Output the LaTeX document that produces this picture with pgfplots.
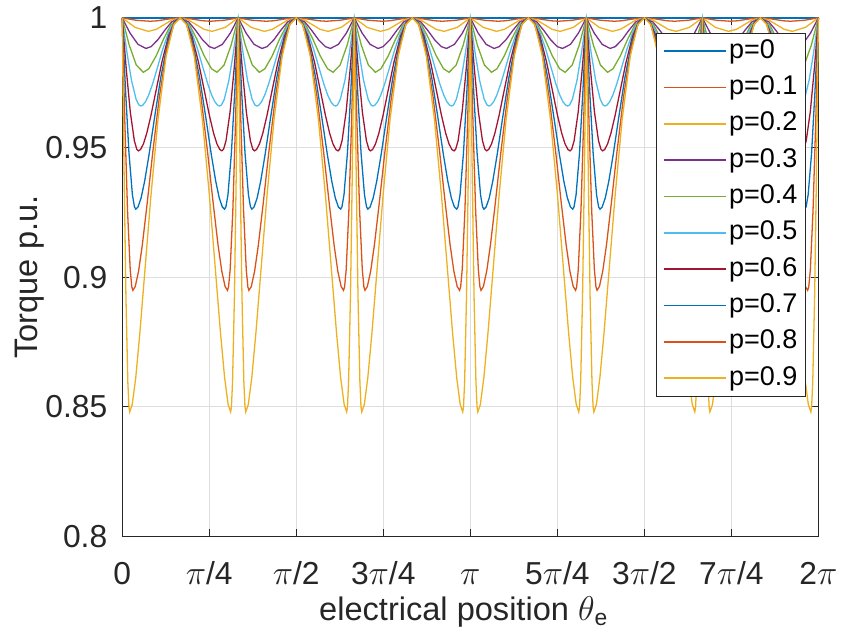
\documentclass[border=0pt]{standalone}
\usepackage{pgfplots}
\pgfplotsset{compat=1.18}
\usepackage{fontspec}
\setmainfont{Liberation Sans}
\definecolor{c1}{rgb}{0,0.447,0.741}
\definecolor{c2}{rgb}{0.85,0.325,0.098}
\definecolor{c3}{rgb}{0.929,0.694,0.125}
\definecolor{c4}{rgb}{0.494,0.184,0.556}
\definecolor{c5}{rgb}{0.466,0.674,0.188}
\definecolor{c6}{rgb}{0.301,0.745,0.933}
\definecolor{c7}{rgb}{0.635,0.078,0.184}
\begin{document}
\begin{tikzpicture}
\begin{axis}[
 scale only axis, width=350.5pt, height=261pt,
 xmin=0, xmax=12, ymin=0.8, ymax=1,
 xtick={0,1.5,3,4.5,6,7.5,9,10.5,12},
 xticklabels={0,$\pi$/4,$\pi$/2,3$\pi$/4,$\pi$,5$\pi$/4,3$\pi$/2,7$\pi$/4,2$\pi$},
 ytick={0.8,0.85,0.9,0.95,1},
 yticklabels={0.8,0.85,0.9,0.95,1},
 tick align=inside, major tick length=3.5pt,
 xtick pos=both, ytick pos=both, xticklabel pos=lower, yticklabel pos=left,
 tick style={color=black!85, line width=0.5pt},
 axis line style={color=black!85, line width=0.5pt},
 grid=major, major grid style={color=black!13, line width=0.5pt},
 clip=false,
 every axis plot/.append style={line width=0.65pt},
 tick label style={font=\fontsize{16}{19}\selectfont, color=black!85},
 xticklabel style={anchor=base, yshift=-24pt},
 yticklabel style={anchor=east, xshift=-4pt},
 xlabel={electrical position $\theta$\textsubscript{e}},
 ylabel={Torque p.u.},
 label style={font=\fontsize{16.4}{19}\selectfont, color=black!85},
 xlabel style={at={(axis description cs:0.4907,-0.145)}, anchor=center},
 ylabel style={at={(axis description cs:-0.1327,0.5)}, anchor=center},
 legend cell align=left,
 legend image code/.code={\draw[#1, line width=0.8pt] (0pt,0pt) -- (31.5pt,0pt);},
 legend style={at={(axis description cs:0.982,0.9713)}, anchor=north east,
   font=\fontsize{13.6}{15}\selectfont, draw=black!85, line width=0.5pt, fill=white,
   inner xsep=3pt, inner ysep=2pt, row sep=4.3pt,
   nodes={inner sep=1pt, text height=9.5pt, text depth=2.5pt}},
]
\coordinate (ll) at (rel axis cs:0,0);
\addplot[c1] coordinates {(0,1)(12,1)};
\addplot[c2] coordinates {
(0,1)(0.24,0.99908)(0.48,0.9987)(0.61,0.99888)(0.74,0.99934)(0.87,0.99981)(1,1)(1.13,0.99981)(1.26,0.99934)(1.39,0.99888)(1.52,0.9987)(1.76,0.99908)
(2,1)(2.24,0.99908)(2.48,0.9987)(2.61,0.99888)(2.74,0.99934)(2.87,0.99981)(3,1)(3.13,0.99981)(3.26,0.99934)(3.39,0.99888)(3.52,0.9987)(3.76,0.99908)
(4,1)(4.24,0.99908)(4.48,0.9987)(4.61,0.99888)(4.74,0.99934)(4.87,0.99981)(5,1)(5.13,0.99981)(5.26,0.99934)(5.39,0.99888)(5.52,0.9987)(5.76,0.99908)
(6,1)(6.24,0.99908)(6.48,0.9987)(6.61,0.99888)(6.74,0.99934)(6.87,0.99981)(7,1)(7.13,0.99981)(7.26,0.99934)(7.39,0.99888)(7.52,0.9987)(7.76,0.99908)
(8,1)(8.24,0.99908)(8.48,0.9987)(8.61,0.99888)(8.74,0.99934)(8.87,0.99981)(9,1)(9.13,0.99981)(9.26,0.99934)(9.39,0.99888)(9.52,0.9987)(9.76,0.99908)
(10,1)(10.24,0.99908)(10.48,0.9987)(10.61,0.99888)(10.74,0.99934)(10.87,0.99981)(11,1)(11.13,0.99981)(11.26,0.99934)(11.39,0.99888)(11.52,0.9987)(11.76,0.99908)
(12,1)};
\addplot[c3] coordinates {
(0,1)(0.225,0.99632)(0.45,0.9948)(0.5875,0.99557)(0.725,0.99741)(0.8625,0.99927)(1,1)(1.1375,0.99927)(1.275,0.99741)(1.4125,0.99557)(1.55,0.9948)(1.775,0.99632)
(2,1)(2.225,0.99632)(2.45,0.9948)(2.5875,0.99557)(2.725,0.99741)(2.8625,0.99927)(3,1)(3.1375,0.99927)(3.275,0.99741)(3.4125,0.99557)(3.55,0.9948)(3.775,0.99632)
(4,1)(4.225,0.99632)(4.45,0.9948)(4.5875,0.99557)(4.725,0.99741)(4.8625,0.99927)(5,1)(5.1375,0.99927)(5.275,0.99741)(5.4125,0.99557)(5.55,0.9948)(5.775,0.99632)
(6,1)(6.225,0.99632)(6.45,0.9948)(6.5875,0.99557)(6.725,0.99741)(6.8625,0.99927)(7,1)(7.1375,0.99927)(7.275,0.99741)(7.4125,0.99557)(7.55,0.9948)(7.775,0.99632)
(8,1)(8.225,0.99632)(8.45,0.9948)(8.5875,0.99557)(8.725,0.99741)(8.8625,0.99927)(9,1)(9.1375,0.99927)(9.275,0.99741)(9.4125,0.99557)(9.55,0.9948)(9.775,0.99632)
(10,1)(10.225,0.99632)(10.45,0.9948)(10.5875,0.99557)(10.725,0.99741)(10.8625,0.99927)(11,1)(11.1375,0.99927)(11.275,0.99741)(11.4125,0.99557)(11.55,0.9948)(11.775,0.99632)
(12,1)};
\addplot[c4] coordinates {
(0,1)(0.1367,0.9941)(0.2733,0.98978)(0.41,0.9882)(0.4985,0.9889)(0.6165,0.99159)(0.7345,0.99522)(0.8525,0.99843)(1,1)(1.1475,0.99843)(1.2655,0.99522)(1.3835,0.99159)(1.5015,0.9889)(1.59,0.9882)(1.7267,0.98978)(1.8633,0.9941)
(2,1)(2.1367,0.9941)(2.2733,0.98978)(2.41,0.9882)(2.4985,0.9889)(2.6165,0.99159)(2.7345,0.99522)(2.8525,0.99843)(3,1)(3.1475,0.99843)(3.2655,0.99522)(3.3835,0.99159)(3.5015,0.9889)(3.59,0.9882)(3.7267,0.98978)(3.8633,0.9941)
(4,1)(4.1367,0.9941)(4.2733,0.98978)(4.41,0.9882)(4.4985,0.9889)(4.6165,0.99159)(4.7345,0.99522)(4.8525,0.99843)(5,1)(5.1475,0.99843)(5.2655,0.99522)(5.3835,0.99159)(5.5015,0.9889)(5.59,0.9882)(5.7267,0.98978)(5.8633,0.9941)
(6,1)(6.1367,0.9941)(6.2733,0.98978)(6.41,0.9882)(6.4985,0.9889)(6.6165,0.99159)(6.7345,0.99522)(6.8525,0.99843)(7,1)(7.1475,0.99843)(7.2655,0.99522)(7.3835,0.99159)(7.5015,0.9889)(7.59,0.9882)(7.7267,0.98978)(7.8633,0.9941)
(8,1)(8.1367,0.9941)(8.2733,0.98978)(8.41,0.9882)(8.4985,0.9889)(8.6165,0.99159)(8.7345,0.99522)(8.8525,0.99843)(9,1)(9.1475,0.99843)(9.2655,0.99522)(9.3835,0.99159)(9.5015,0.9889)(9.59,0.9882)(9.7267,0.98978)(9.8633,0.9941)
(10,1)(10.1367,0.9941)(10.2733,0.98978)(10.41,0.9882)(10.4985,0.9889)(10.6165,0.99159)(10.7345,0.99522)(10.8525,0.99843)(11,1)(11.1475,0.99843)(11.2655,0.99522)(11.3835,0.99159)(11.5015,0.9889)(11.59,0.9882)(11.7267,0.98978)(11.8633,0.9941)
(12,1)};
\addplot[c5] coordinates {
(0,1)(0.1217,0.9895)(0.2433,0.98181)(0.365,0.979)(0.4603,0.98037)(0.5873,0.98538)(0.7143,0.99187)(0.8413,0.99739)(1,1)(1.1587,0.99739)(1.2857,0.99187)(1.4127,0.98538)(1.5397,0.98037)(1.635,0.979)(1.7567,0.98181)(1.8783,0.9895)
(2,1)(2.1217,0.9895)(2.2433,0.98181)(2.365,0.979)(2.4603,0.98037)(2.5873,0.98538)(2.7143,0.99187)(2.8413,0.99739)(3,1)(3.1587,0.99739)(3.2857,0.99187)(3.4127,0.98538)(3.5397,0.98037)(3.635,0.979)(3.7567,0.98181)(3.8783,0.9895)
(4,1)(4.1217,0.9895)(4.2433,0.98181)(4.365,0.979)(4.4603,0.98037)(4.5873,0.98538)(4.7143,0.99187)(4.8413,0.99739)(5,1)(5.1587,0.99739)(5.2857,0.99187)(5.4127,0.98538)(5.5397,0.98037)(5.635,0.979)(5.7567,0.98181)(5.8783,0.9895)
(6,1)(6.1217,0.9895)(6.2433,0.98181)(6.365,0.979)(6.4603,0.98037)(6.5873,0.98538)(6.7143,0.99187)(6.8413,0.99739)(7,1)(7.1587,0.99739)(7.2857,0.99187)(7.4127,0.98538)(7.5397,0.98037)(7.635,0.979)(7.7567,0.98181)(7.8783,0.9895)
(8,1)(8.1217,0.9895)(8.2433,0.98181)(8.365,0.979)(8.4603,0.98037)(8.5873,0.98538)(8.7143,0.99187)(8.8413,0.99739)(9,1)(9.1587,0.99739)(9.2857,0.99187)(9.4127,0.98538)(9.5397,0.98037)(9.635,0.979)(9.7567,0.98181)(9.8783,0.9895)
(10,1)(10.1217,0.9895)(10.2433,0.98181)(10.365,0.979)(10.4603,0.98037)(10.5873,0.98538)(10.7143,0.99187)(10.8413,0.99739)(11,1)(11.1587,0.99739)(11.2857,0.99187)(11.4127,0.98538)(11.5397,0.98037)(11.635,0.979)(11.7567,0.98181)(11.8783,0.9895)
(12,1)};
\addplot[c6] coordinates {
(0,1)(0.08,0.98699)(0.16,0.97596)(0.24,0.96859)(0.288,0.96642)(0.32,0.966)(0.354,0.9663)(0.4016,0.9676)(0.456,0.97014)(0.524,0.97447)(0.6056,0.98063)(0.7008,0.98798)(0.8096,0.99503)(0.9116,0.99903)(1,1)(1.0884,0.99903)(1.1904,0.99503)(1.2992,0.98798)(1.3944,0.98063)(1.476,0.97447)(1.544,0.97014)(1.5984,0.9676)(1.646,0.9663)(1.68,0.966)(1.712,0.96642)(1.76,0.96859)(1.84,0.97596)(1.92,0.98699)
(2,1)(2.08,0.98699)(2.16,0.97596)(2.24,0.96859)(2.288,0.96642)(2.32,0.966)(2.354,0.9663)(2.4016,0.9676)(2.456,0.97014)(2.524,0.97447)(2.6056,0.98063)(2.7008,0.98798)(2.8096,0.99503)(2.9116,0.99903)(3,1)(3.0884,0.99903)(3.1904,0.99503)(3.2992,0.98798)(3.3944,0.98063)(3.476,0.97447)(3.544,0.97014)(3.5984,0.9676)(3.646,0.9663)(3.68,0.966)(3.712,0.96642)(3.76,0.96859)(3.84,0.97596)(3.92,0.98699)
(4,1)(4.08,0.98699)(4.16,0.97596)(4.24,0.96859)(4.288,0.96642)(4.32,0.966)(4.354,0.9663)(4.4016,0.9676)(4.456,0.97014)(4.524,0.97447)(4.6056,0.98063)(4.7008,0.98798)(4.8096,0.99503)(4.9116,0.99903)(5,1)(5.0884,0.99903)(5.1904,0.99503)(5.2992,0.98798)(5.3944,0.98063)(5.476,0.97447)(5.544,0.97014)(5.5984,0.9676)(5.646,0.9663)(5.68,0.966)(5.712,0.96642)(5.76,0.96859)(5.84,0.97596)(5.92,0.98699)
(6,1)(6.08,0.98699)(6.16,0.97596)(6.24,0.96859)(6.288,0.96642)(6.32,0.966)(6.354,0.9663)(6.4016,0.9676)(6.456,0.97014)(6.524,0.97447)(6.6056,0.98063)(6.7008,0.98798)(6.8096,0.99503)(6.9116,0.99903)(7,1)(7.0884,0.99903)(7.1904,0.99503)(7.2992,0.98798)(7.3944,0.98063)(7.476,0.97447)(7.544,0.97014)(7.5984,0.9676)(7.646,0.9663)(7.68,0.966)(7.712,0.96642)(7.76,0.96859)(7.84,0.97596)(7.92,0.98699)
(8,1)(8.08,0.98699)(8.16,0.97596)(8.24,0.96859)(8.288,0.96642)(8.32,0.966)(8.354,0.9663)(8.4016,0.9676)(8.456,0.97014)(8.524,0.97447)(8.6056,0.98063)(8.7008,0.98798)(8.8096,0.99503)(8.9116,0.99903)(9,1)(9.0884,0.99903)(9.1904,0.99503)(9.2992,0.98798)(9.3944,0.98063)(9.476,0.97447)(9.544,0.97014)(9.5984,0.9676)(9.646,0.9663)(9.68,0.966)(9.712,0.96642)(9.76,0.96859)(9.84,0.97596)(9.92,0.98699)
(10,1)(10.08,0.98699)(10.16,0.97596)(10.24,0.96859)(10.288,0.96642)(10.32,0.966)(10.354,0.9663)(10.4016,0.9676)(10.456,0.97014)(10.524,0.97447)(10.6056,0.98063)(10.7008,0.98798)(10.8096,0.99503)(10.9116,0.99903)(11,1)(11.0884,0.99903)(11.1904,0.99503)(11.2992,0.98798)(11.3944,0.98063)(11.476,0.97447)(11.544,0.97014)(11.5984,0.9676)(11.646,0.9663)(11.68,0.966)(11.712,0.96642)(11.76,0.96859)(11.84,0.97596)(11.92,0.98699)
(12,1)};
\addplot[c7] coordinates {
(0,1)(0.07,0.98037)(0.14,0.96373)(0.21,0.9526)(0.252,0.94933)(0.28,0.9487)(0.316,0.9492)(0.3664,0.95137)(0.424,0.95549)(0.496,0.96233)(0.5824,0.97179)(0.6832,0.98276)(0.7984,0.99299)(0.9064,0.99866)(1,1)(1.0936,0.99866)(1.2016,0.99299)(1.3168,0.98276)(1.4176,0.97179)(1.504,0.96233)(1.576,0.95549)(1.6336,0.95137)(1.684,0.9492)(1.72,0.9487)(1.748,0.94933)(1.79,0.9526)(1.86,0.96373)(1.93,0.98037)
(2,1)(2.07,0.98037)(2.14,0.96373)(2.21,0.9526)(2.252,0.94933)(2.28,0.9487)(2.316,0.9492)(2.3664,0.95137)(2.424,0.95549)(2.496,0.96233)(2.5824,0.97179)(2.6832,0.98276)(2.7984,0.99299)(2.9064,0.99866)(3,1)(3.0936,0.99866)(3.2016,0.99299)(3.3168,0.98276)(3.4176,0.97179)(3.504,0.96233)(3.576,0.95549)(3.6336,0.95137)(3.684,0.9492)(3.72,0.9487)(3.748,0.94933)(3.79,0.9526)(3.86,0.96373)(3.93,0.98037)
(4,1)(4.07,0.98037)(4.14,0.96373)(4.21,0.9526)(4.252,0.94933)(4.28,0.9487)(4.316,0.9492)(4.3664,0.95137)(4.424,0.95549)(4.496,0.96233)(4.5824,0.97179)(4.6832,0.98276)(4.7984,0.99299)(4.9064,0.99866)(5,1)(5.0936,0.99866)(5.2016,0.99299)(5.3168,0.98276)(5.4176,0.97179)(5.504,0.96233)(5.576,0.95549)(5.6336,0.95137)(5.684,0.9492)(5.72,0.9487)(5.748,0.94933)(5.79,0.9526)(5.86,0.96373)(5.93,0.98037)
(6,1)(6.07,0.98037)(6.14,0.96373)(6.21,0.9526)(6.252,0.94933)(6.28,0.9487)(6.316,0.9492)(6.3664,0.95137)(6.424,0.95549)(6.496,0.96233)(6.5824,0.97179)(6.6832,0.98276)(6.7984,0.99299)(6.9064,0.99866)(7,1)(7.0936,0.99866)(7.2016,0.99299)(7.3168,0.98276)(7.4176,0.97179)(7.504,0.96233)(7.576,0.95549)(7.6336,0.95137)(7.684,0.9492)(7.72,0.9487)(7.748,0.94933)(7.79,0.9526)(7.86,0.96373)(7.93,0.98037)
(8,1)(8.07,0.98037)(8.14,0.96373)(8.21,0.9526)(8.252,0.94933)(8.28,0.9487)(8.316,0.9492)(8.3664,0.95137)(8.424,0.95549)(8.496,0.96233)(8.5824,0.97179)(8.6832,0.98276)(8.7984,0.99299)(8.9064,0.99866)(9,1)(9.0936,0.99866)(9.2016,0.99299)(9.3168,0.98276)(9.4176,0.97179)(9.504,0.96233)(9.576,0.95549)(9.6336,0.95137)(9.684,0.9492)(9.72,0.9487)(9.748,0.94933)(9.79,0.9526)(9.86,0.96373)(9.93,0.98037)
(10,1)(10.07,0.98037)(10.14,0.96373)(10.21,0.9526)(10.252,0.94933)(10.28,0.9487)(10.316,0.9492)(10.3664,0.95137)(10.424,0.95549)(10.496,0.96233)(10.5824,0.97179)(10.6832,0.98276)(10.7984,0.99299)(10.9064,0.99866)(11,1)(11.0936,0.99866)(11.2016,0.99299)(11.3168,0.98276)(11.4176,0.97179)(11.504,0.96233)(11.576,0.95549)(11.6336,0.95137)(11.684,0.9492)(11.72,0.9487)(11.748,0.94933)(11.79,0.9526)(11.86,0.96373)(11.93,0.98037)
(12,1)};
\addplot[c1] coordinates {
(0,1)(0.0588,0.97176)(0.1175,0.94782)(0.1763,0.93182)(0.2115,0.92711)(0.235,0.9262)(0.2733,0.92704)(0.3268,0.93056)(0.388,0.93704)(0.4645,0.94741)(0.5563,0.96124)(0.6634,0.97675)(0.7858,0.99074)(0.9006,0.99825)(1,1)(1.0994,0.99825)(1.2142,0.99074)(1.3366,0.97675)(1.4437,0.96124)(1.5355,0.94741)(1.612,0.93704)(1.6732,0.93056)(1.7267,0.92704)(1.765,0.9262)(1.7885,0.92711)(1.8237,0.93182)(1.8825,0.94782)(1.9412,0.97176)
(2,1)(2.0588,0.97176)(2.1175,0.94782)(2.1763,0.93182)(2.2115,0.92711)(2.235,0.9262)(2.2733,0.92704)(2.3268,0.93056)(2.388,0.93704)(2.4645,0.94741)(2.5563,0.96124)(2.6634,0.97675)(2.7858,0.99074)(2.9006,0.99825)(3,1)(3.0994,0.99825)(3.2142,0.99074)(3.3366,0.97675)(3.4437,0.96124)(3.5355,0.94741)(3.612,0.93704)(3.6732,0.93056)(3.7267,0.92704)(3.765,0.9262)(3.7885,0.92711)(3.8237,0.93182)(3.8825,0.94782)(3.9412,0.97176)
(4,1)(4.0588,0.97176)(4.1175,0.94782)(4.1763,0.93182)(4.2115,0.92711)(4.235,0.9262)(4.2733,0.92704)(4.3268,0.93056)(4.388,0.93704)(4.4645,0.94741)(4.5563,0.96124)(4.6634,0.97675)(4.7858,0.99074)(4.9006,0.99825)(5,1)(5.0994,0.99825)(5.2142,0.99074)(5.3366,0.97675)(5.4437,0.96124)(5.5355,0.94741)(5.612,0.93704)(5.6732,0.93056)(5.7267,0.92704)(5.765,0.9262)(5.7885,0.92711)(5.8237,0.93182)(5.8825,0.94782)(5.9412,0.97176)
(6,1)(6.0588,0.97176)(6.1175,0.94782)(6.1763,0.93182)(6.2115,0.92711)(6.235,0.9262)(6.2733,0.92704)(6.3268,0.93056)(6.388,0.93704)(6.4645,0.94741)(6.5563,0.96124)(6.6634,0.97675)(6.7858,0.99074)(6.9006,0.99825)(7,1)(7.0994,0.99825)(7.2142,0.99074)(7.3366,0.97675)(7.4437,0.96124)(7.5355,0.94741)(7.612,0.93704)(7.6732,0.93056)(7.7267,0.92704)(7.765,0.9262)(7.7885,0.92711)(7.8237,0.93182)(7.8825,0.94782)(7.9412,0.97176)
(8,1)(8.0588,0.97176)(8.1175,0.94782)(8.1763,0.93182)(8.2115,0.92711)(8.235,0.9262)(8.2733,0.92704)(8.3268,0.93056)(8.388,0.93704)(8.4645,0.94741)(8.5563,0.96124)(8.6634,0.97675)(8.7858,0.99074)(8.9006,0.99825)(9,1)(9.0994,0.99825)(9.2142,0.99074)(9.3366,0.97675)(9.4437,0.96124)(9.5355,0.94741)(9.612,0.93704)(9.6732,0.93056)(9.7267,0.92704)(9.765,0.9262)(9.7885,0.92711)(9.8237,0.93182)(9.8825,0.94782)(9.9412,0.97176)
(10,1)(10.0588,0.97176)(10.1175,0.94782)(10.1763,0.93182)(10.2115,0.92711)(10.235,0.9262)(10.2733,0.92704)(10.3268,0.93056)(10.388,0.93704)(10.4645,0.94741)(10.5563,0.96124)(10.6634,0.97675)(10.7858,0.99074)(10.9006,0.99825)(11,1)(11.0994,0.99825)(11.2142,0.99074)(11.3366,0.97675)(11.4437,0.96124)(11.5355,0.94741)(11.612,0.93704)(11.6732,0.93056)(11.7267,0.92704)(11.765,0.9262)(11.7885,0.92711)(11.8237,0.93182)(11.8825,0.94782)(11.9412,0.97176)
(12,1)};
\addplot[c2] coordinates {
(0,1)(0.0463,0.95978)(0.0925,0.92568)(0.1388,0.9029)(0.1665,0.89619)(0.185,0.8949)(0.2258,0.89637)(0.2828,0.90225)(0.348,0.9125)(0.4295,0.92816)(0.5273,0.94812)(0.6414,0.96956)(0.7718,0.98815)(0.8941,0.99781)(1,1)(1.1059,0.99781)(1.2282,0.98815)(1.3586,0.96956)(1.4727,0.94812)(1.5705,0.92816)(1.652,0.9125)(1.7172,0.90225)(1.7742,0.89637)(1.815,0.8949)(1.8335,0.89619)(1.8612,0.9029)(1.9075,0.92568)(1.9537,0.95978)
(2,1)(2.0463,0.95978)(2.0925,0.92568)(2.1388,0.9029)(2.1665,0.89619)(2.185,0.8949)(2.2258,0.89637)(2.2828,0.90225)(2.348,0.9125)(2.4295,0.92816)(2.5273,0.94812)(2.6414,0.96956)(2.7718,0.98815)(2.8941,0.99781)(3,1)(3.1059,0.99781)(3.2282,0.98815)(3.3586,0.96956)(3.4727,0.94812)(3.5705,0.92816)(3.652,0.9125)(3.7172,0.90225)(3.7742,0.89637)(3.815,0.8949)(3.8335,0.89619)(3.8612,0.9029)(3.9075,0.92568)(3.9537,0.95978)
(4,1)(4.0463,0.95978)(4.0925,0.92568)(4.1388,0.9029)(4.1665,0.89619)(4.185,0.8949)(4.2258,0.89637)(4.2828,0.90225)(4.348,0.9125)(4.4295,0.92816)(4.5273,0.94812)(4.6414,0.96956)(4.7718,0.98815)(4.8941,0.99781)(5,1)(5.1059,0.99781)(5.2282,0.98815)(5.3586,0.96956)(5.4727,0.94812)(5.5705,0.92816)(5.652,0.9125)(5.7172,0.90225)(5.7742,0.89637)(5.815,0.8949)(5.8335,0.89619)(5.8612,0.9029)(5.9075,0.92568)(5.9537,0.95978)
(6,1)(6.0463,0.95978)(6.0925,0.92568)(6.1388,0.9029)(6.1665,0.89619)(6.185,0.8949)(6.2258,0.89637)(6.2828,0.90225)(6.348,0.9125)(6.4295,0.92816)(6.5273,0.94812)(6.6414,0.96956)(6.7718,0.98815)(6.8941,0.99781)(7,1)(7.1059,0.99781)(7.2282,0.98815)(7.3586,0.96956)(7.4727,0.94812)(7.5705,0.92816)(7.652,0.9125)(7.7172,0.90225)(7.7742,0.89637)(7.815,0.8949)(7.8335,0.89619)(7.8612,0.9029)(7.9075,0.92568)(7.9537,0.95978)
(8,1)(8.0463,0.95978)(8.0925,0.92568)(8.1388,0.9029)(8.1665,0.89619)(8.185,0.8949)(8.2258,0.89637)(8.2828,0.90225)(8.348,0.9125)(8.4295,0.92816)(8.5273,0.94812)(8.6414,0.96956)(8.7718,0.98815)(8.8941,0.99781)(9,1)(9.1059,0.99781)(9.2282,0.98815)(9.3586,0.96956)(9.4727,0.94812)(9.5705,0.92816)(9.652,0.9125)(9.7172,0.90225)(9.7742,0.89637)(9.815,0.8949)(9.8335,0.89619)(9.8612,0.9029)(9.9075,0.92568)(9.9537,0.95978)
(10,1)(10.0463,0.95978)(10.0925,0.92568)(10.1388,0.9029)(10.1665,0.89619)(10.185,0.8949)(10.2258,0.89637)(10.2828,0.90225)(10.348,0.9125)(10.4295,0.92816)(10.5273,0.94812)(10.6414,0.96956)(10.7718,0.98815)(10.8941,0.99781)(11,1)(11.1059,0.99781)(11.2282,0.98815)(11.3586,0.96956)(11.4727,0.94812)(11.5705,0.92816)(11.652,0.9125)(11.7172,0.90225)(11.7742,0.89637)(11.815,0.8949)(11.8335,0.89619)(11.8612,0.9029)(11.9075,0.92568)(11.9537,0.95978)
(12,1)};
\addplot[c3] coordinates {
(0,1)(0.0325,0.94183)(0.065,0.89252)(0.0975,0.85957)(0.117,0.84987)(0.13,0.848)(0.1735,0.85083)(0.2344,0.86127)(0.304,0.87817)(0.391,0.90229)(0.4954,0.93122)(0.6172,0.96072)(0.7564,0.9851)(0.8869,0.99731)(1,1)(1.1131,0.99731)(1.2436,0.9851)(1.3828,0.96072)(1.5046,0.93122)(1.609,0.90229)(1.696,0.87817)(1.7656,0.86127)(1.8265,0.85083)(1.87,0.848)(1.883,0.84987)(1.9025,0.85957)(1.935,0.89252)(1.9675,0.94183)
(2,1)(2.0325,0.94183)(2.065,0.89252)(2.0975,0.85957)(2.117,0.84987)(2.13,0.848)(2.1735,0.85083)(2.2344,0.86127)(2.304,0.87817)(2.391,0.90229)(2.4954,0.93122)(2.6172,0.96072)(2.7564,0.9851)(2.8869,0.99731)(3,1)(3.1131,0.99731)(3.2436,0.9851)(3.3828,0.96072)(3.5046,0.93122)(3.609,0.90229)(3.696,0.87817)(3.7656,0.86127)(3.8265,0.85083)(3.87,0.848)(3.883,0.84987)(3.9025,0.85957)(3.935,0.89252)(3.9675,0.94183)
(4,1)(4.0325,0.94183)(4.065,0.89252)(4.0975,0.85957)(4.117,0.84987)(4.13,0.848)(4.1735,0.85083)(4.2344,0.86127)(4.304,0.87817)(4.391,0.90229)(4.4954,0.93122)(4.6172,0.96072)(4.7564,0.9851)(4.8869,0.99731)(5,1)(5.1131,0.99731)(5.2436,0.9851)(5.3828,0.96072)(5.5046,0.93122)(5.609,0.90229)(5.696,0.87817)(5.7656,0.86127)(5.8265,0.85083)(5.87,0.848)(5.883,0.84987)(5.9025,0.85957)(5.935,0.89252)(5.9675,0.94183)
(6,1)(6.0325,0.94183)(6.065,0.89252)(6.0975,0.85957)(6.117,0.84987)(6.13,0.848)(6.1735,0.85083)(6.2344,0.86127)(6.304,0.87817)(6.391,0.90229)(6.4954,0.93122)(6.6172,0.96072)(6.7564,0.9851)(6.8869,0.99731)(7,1)(7.1131,0.99731)(7.2436,0.9851)(7.3828,0.96072)(7.5046,0.93122)(7.609,0.90229)(7.696,0.87817)(7.7656,0.86127)(7.8265,0.85083)(7.87,0.848)(7.883,0.84987)(7.9025,0.85957)(7.935,0.89252)(7.9675,0.94183)
(8,1)(8.0325,0.94183)(8.065,0.89252)(8.0975,0.85957)(8.117,0.84987)(8.13,0.848)(8.1735,0.85083)(8.2344,0.86127)(8.304,0.87817)(8.391,0.90229)(8.4954,0.93122)(8.6172,0.96072)(8.7564,0.9851)(8.8869,0.99731)(9,1)(9.1131,0.99731)(9.2436,0.9851)(9.3828,0.96072)(9.5046,0.93122)(9.609,0.90229)(9.696,0.87817)(9.7656,0.86127)(9.8265,0.85083)(9.87,0.848)(9.883,0.84987)(9.9025,0.85957)(9.935,0.89252)(9.9675,0.94183)
(10,1)(10.0325,0.94183)(10.065,0.89252)(10.0975,0.85957)(10.117,0.84987)(10.13,0.848)(10.1735,0.85083)(10.2344,0.86127)(10.304,0.87817)(10.391,0.90229)(10.4954,0.93122)(10.6172,0.96072)(10.7564,0.9851)(10.8869,0.99731)(11,1)(11.1131,0.99731)(11.2436,0.9851)(11.3828,0.96072)(11.5046,0.93122)(11.609,0.90229)(11.696,0.87817)(11.7656,0.86127)(11.8265,0.85083)(11.87,0.848)(11.883,0.84987)(11.9025,0.85957)(11.935,0.89252)(11.9675,0.94183)
(12,1)};
\legend{p=0,p=0.1,p=0.2,p=0.3,p=0.4,p=0.5,p=0.6,p=0.7,p=0.8,p=0.9}
\end{axis}
\path (ll) ++(-61.5pt,-53pt) rectangle ++(422pt,323pt);
\end{tikzpicture}
\end{document}
